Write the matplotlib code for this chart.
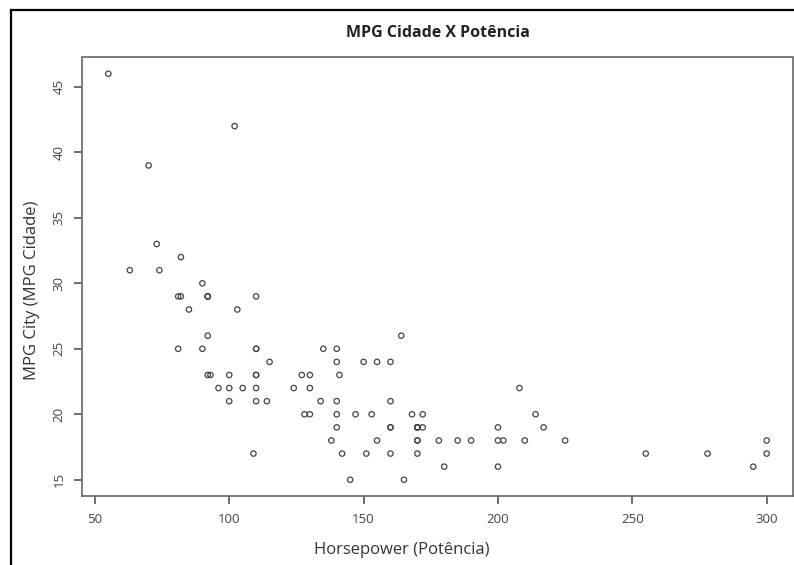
import matplotlib
matplotlib.use("Agg")
import matplotlib.pyplot as plt
from matplotlib.lines import Line2D

# Cars93: Horsepower x MPG.city
horsepower = [140, 200, 172, 172, 208, 110, 170, 180, 170, 200, 295, 110, 110, 160, 110,
              170, 165, 170, 300, 153, 141, 147, 92, 93, 100, 142, 100, 300, 92, 214,
              63, 127, 96, 105, 115, 145, 140, 190, 55, 90, 160, 102, 140, 81, 124,
              92, 128, 278, 185, 225, 160, 210, 82, 103, 164, 155, 255, 130, 217, 100,
              140, 92, 202, 110, 150, 151, 160, 155, 110, 170, 170, 92, 74, 110, 160,
              200, 170, 140, 85, 73, 90, 130, 70, 82, 135, 130, 138, 81, 109, 134,
              178, 114, 168]
mpg_city = [25, 18, 20, 19, 22, 22, 19, 16, 19, 16, 16, 25, 25, 19, 21,
            18, 15, 17, 17, 20, 23, 20, 29, 23, 22, 17, 21, 18, 29, 20,
            31, 23, 22, 22, 24, 15, 21, 18, 46, 30, 24, 42, 24, 29, 22,
            26, 20, 17, 18, 18, 17, 18, 29, 28, 26, 18, 17, 20, 19, 23,
            19, 29, 18, 29, 24, 17, 21, 24, 23, 18, 19, 23, 31, 23, 19,
            19, 19, 20, 28, 33, 25, 23, 39, 32, 25, 22, 18, 25, 17, 21,
            18, 21, 20]

xticks = [50, 100, 150, 200, 250, 300]
yticks = [15, 20, 25, 30, 35, 40, 45]

plt.rcParams['font.family'] = ['Open Sans', 'DejaVu Sans']

fig = plt.figure(figsize=(7.94, 5.65), dpi=100)
ax = fig.add_axes([82 / 794, 69 / 565, 711 / 794, 438.5 / 565])

ax.scatter(horsepower, mpg_city, s=15, facecolors="none", edgecolors="#444444", linewidths=0.9)

# limites como no R (4% de folga)
xr = max(horsepower) - min(horsepower)
yr = max(mpg_city) - min(mpg_city)
ax.set_xlim(min(horsepower) - 0.04 * xr, max(horsepower) + 0.04 * xr)
ax.set_ylim(min(mpg_city) - 0.04 * yr, max(mpg_city) + 0.04 * yr)

ax.set_xticks(xticks)
ax.set_yticks(yticks)
ax.set_yticklabels([str(v) for v in yticks], rotation=90, va="center")
ax.tick_params(axis="both", length=6, width=1.2, color="#555555", labelsize=9.5, labelcolor="#444444", pad=6)

for sp in ax.spines.values():
    sp.set_color("#666666")
    sp.set_linewidth(1.2)

ax.set_title("MPG Cidade X Potência", fontsize=11.5, fontweight="bold", color="#222222", pad=15)
ax.set_xlabel("Horsepower (Potência)", fontsize=12, color="#333333", va="center")
ax.set_ylabel("MPG City (MPG Cidade)", fontsize=12, color="#333333", va="center")
ax.xaxis.set_label_coords(0.45, -0.123)
ax.yaxis.set_label_coords(-0.070, 0.47)

# moldura preta da captura de tela
fig.add_artist(Line2D([11 / 794, 1], [1 - 10 / 565, 1 - 10 / 565], color="black", lw=1.6, transform=fig.transFigure))
fig.add_artist(Line2D([11 / 794, 11 / 794], [0, 1 - 10 / 565], color="black", lw=1.6, transform=fig.transFigure))

fig.savefig("out.png", dpi=100)
